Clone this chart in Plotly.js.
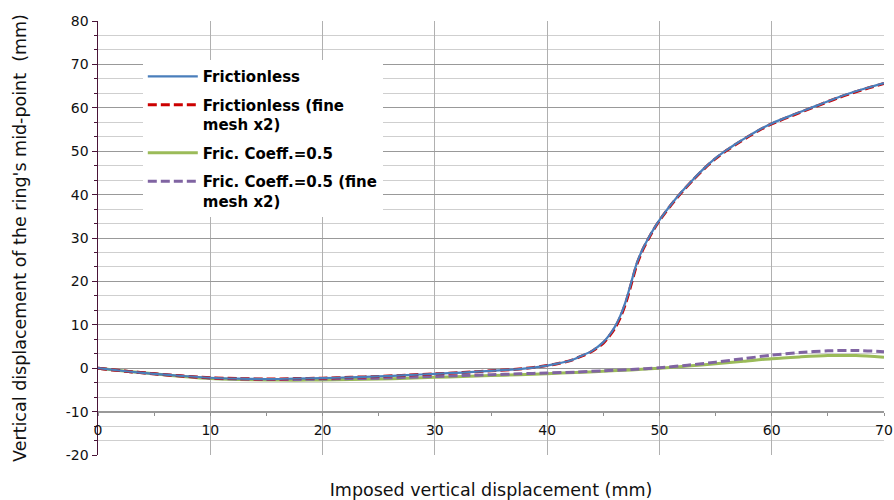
<!DOCTYPE html>
<html>
<head>
<meta charset="utf-8">
<script src="https://cdn.plot.ly/plotly-3.0.1.min.js"></script>
<style>html,body{margin:0;padding:0;background:#fff;}#chart{width:894px;height:500px;}</style>
</head>
<body>
<div id="chart"></div>
<script>
// Frictionless series (coarse and fine mesh)
const xFrictionless = [0, 2.5, 5, 7.5, 10, 12.5, 15, 17.5, 20, 22.5, 25, 27.5, 30, 32.5, 35, 37.5, 40, 41, 42, 43, 44, 45, 45.5, 46, 46.5, 47, 47.5, 48, 48.5, 49, 49.5, 50, 50.5, 51, 52, 53, 54, 55, 56, 57, 58, 59, 60, 62, 64, 66, 68, 70];
const yFrictionless = [0, -0.7, -1.3, -1.8, -2.2, -2.4, -2.5, -2.4, -2.3, -2.1, -1.9, -1.6, -1.3, -1.0, -0.6, -0.2, 0.6, 1.1, 1.7, 2.8, 4.0, 6.0, 7.5, 9.4, 12.0, 15.4, 19.9, 24.3, 27.4, 29.9, 32.1, 34.1, 35.9, 37.6, 40.7, 43.5, 46.1, 48.4, 50.3, 52.0, 53.6, 55.1, 56.4, 58.5, 60.5, 62.5, 64.2, 65.7];
const yFrictionlessFine = [0, -0.7, -1.3, -1.8, -2.2, -2.4, -2.5, -2.4, -2.3, -2.1, -1.9, -1.6, -1.3, -1.0, -0.6, -0.2, 0.6, 1.1, 1.7, 2.7, 3.9, 5.8, 7.3, 9.1, 11.6, 15.0, 19.5, 24.0, 27.2, 29.7, 32.0, 34.0, 35.8, 37.5, 40.6, 43.4, 46.0, 48.3, 50.2, 51.9, 53.5, 55.0, 56.3, 58.4, 60.4, 62.4, 64.1, 65.6];

// Friction coefficient 0.5 series (coarse and fine mesh)
const xFriction = [0, 2.5, 5, 7.5, 10, 12.5, 15, 17.5, 20, 22.5, 25, 27.5, 30, 32.5, 35, 37.5, 40, 42.5, 45, 47.5, 50, 52.5, 55, 57.5, 60, 62.5, 65, 67.5, 70];
const yFriction = [0, -0.7, -1.3, -1.9, -2.4, -2.6, -2.7, -2.75, -2.7, -2.6, -2.5, -2.3, -2.1, -1.9, -1.7, -1.5, -1.25, -1.0, -0.7, -0.4, 0, 0.5, 1.0, 1.6, 2.2, 2.6, 2.9, 2.9, 2.5];
const yFrictionFine = [0, -0.7, -1.3, -1.8, -2.3, -2.5, -2.6, -2.6, -2.5, -2.4, -2.3, -2.1, -1.9, -1.7, -1.5, -1.3, -1.1, -0.9, -0.6, -0.3, 0.1, 0.7, 1.4, 2.2, 3.0, 3.6, 4.0, 4.1, 3.8];

const seriesNames = ["Frictionless", "Frictionless (fine<br>mesh x2)", "Fric. Coeff.=0.5", "Fric. Coeff.=0.5 (fine<br>mesh x2)"];
const xTickVals = [0, 10, 20, 30, 40, 50, 60, 70];
const xTickText = ["0", "10", "20", "30", "40", "50", "60", "70"];
const yTickVals = [-20, -10, 0, 10, 20, 30, 40, 50, 60, 70, 80];
const yTickText = ["-20", "-10", "0", "10", "20", "30", "40", "50", "60", "70", "80"];

const axisMaroon = '#4a1438';
const font = 'DejaVu Sans, Verdana, sans-serif';

const traces = [
  {x: xFriction, y: yFriction, name: seriesNames[2], legendrank: 3, legendgroup: 'c', mode: 'lines',
   line: {color: '#9bbb59', width: 3, shape: 'spline', smoothing: 0.8}},
  {x: xFriction, y: yFrictionFine, name: seriesNames[3], legendrank: 4, legendgroup: 'd', mode: 'lines',
   line: {color: '#8064a2', width: 3, dash: '9px,4px', shape: 'spline', smoothing: 0.8}},
  {x: xFrictionless, y: yFrictionlessFine, name: seriesNames[1], legendrank: 2, legendgroup: 'b', mode: 'lines',
   line: {color: '#cc0000', width: 3, dash: '9px,4px', shape: 'spline', smoothing: 0.8}},
  {x: xFrictionless, y: yFrictionless, name: seriesNames[0], legendrank: 1, legendgroup: 'a', mode: 'lines',
   line: {color: '#4a7ebb', width: 2.2, shape: 'spline', smoothing: 0.8}},
  // empty trace that only carries the labelled x axis drawn across y = -10
  {x: [], y: [], xaxis: 'x2', yaxis: 'y', mode: 'lines', showlegend: false, hoverinfo: 'skip'}
];

const layout = {
  width: 894, height: 500,
  margin: {l: 98, r: 10, t: 21, b: 45},
  paper_bgcolor: '#ffffff', plot_bgcolor: '#ffffff',
  font: {family: font, size: 14, color: '#111111'},
  showlegend: true,
  legend: {
    x: 0.057, y: 0.91, xanchor: 'left', yanchor: 'top',
    bgcolor: '#ffffff', borderwidth: 0,
    font: {family: font, size: 15, color: '#000000', weight: 'bold'},
    valign: 'top', itemwidth: 50, tracegroupgap: 6
  },
  xaxis: {
    range: [0, 70], tickvals: xTickVals, showticklabels: false, ticks: '',
    showgrid: true, gridcolor: '#b0b0b0', gridwidth: 1,
    zeroline: false, showline: false,
    title: {text: 'Imposed vertical displacement (mm)', font: {family: font, size: 17.5, color: '#111111'}, standoff: 31}
  },
  xaxis2: {
    overlaying: 'x', matches: 'x', anchor: 'free', position: 0.1,
    range: [0, 70], tickvals: xTickVals, ticktext: xTickText,
    showline: true, linecolor: '#999999', linewidth: 1,
    ticks: 'outside', ticklen: 6, tickcolor: 'rgba(0,0,0,0)',
    minor: {dtick: 5, ticks: 'outside', ticklen: 3, tickcolor: '#909090', showgrid: false},
    showgrid: false, zeroline: false,
    tickfont: {family: font, size: 14, color: '#111111'}
  },
  yaxis: {
    range: [-20, 80], tickvals: yTickVals, ticktext: yTickText,
    ticks: 'outside', ticklen: 5, tickcolor: axisMaroon, tickwidth: 1,
    showline: true, linecolor: axisMaroon, linewidth: 1.5,
    showgrid: true, gridcolor: '#999999', gridwidth: 1, zeroline: false,
    tickfont: {family: font, size: 14, color: '#111111'},
    minor: {dtick: 10 / 3, showgrid: true, gridcolor: '#cfcfcf', gridwidth: 1, ticks: 'outside', ticklen: 3, tickcolor: axisMaroon},
    title: {text: "Vertical displacement of the ring's mid-point \u00a0(mm)", font: {family: font, size: 17.5, color: '#111111'}, standoff: 34}
  }
};

Plotly.newPlot('chart', traces, layout, {displayModeBar: false, staticPlot: true});
</script>
</body>
</html>
